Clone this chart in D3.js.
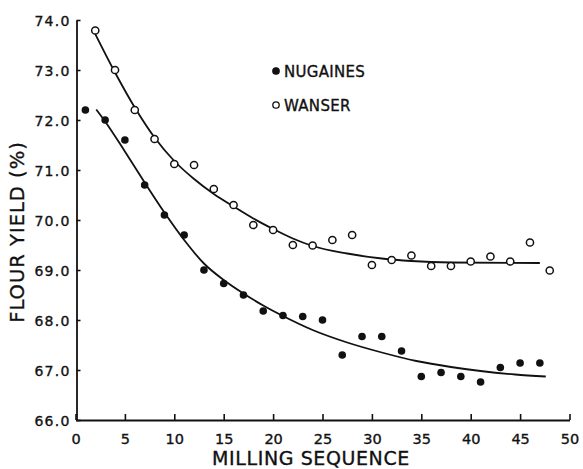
<!doctype html>
<html>
  <head>
    <script src="https://cdnjs.cloudflare.com/ajax/libs/d3/7.8.5/d3.min.js"></script>
    <style>
      body { margin: 0; background: #fff; }
      svg { display: block; }
      text { font-family: "DejaVu Sans", sans-serif; fill: #111; stroke: #111; stroke-width: 0.35px; }
    </style>
  </head>
  <body>
    <svg id="chart" width="583" height="469"></svg>
    <script>
      // milling sequence vs flour yield (%)
      var nugainesX = [1, 3, 5, 7, 9, 11, 13, 15, 17, 19, 21, 23, 25, 27, 29, 31, 33, 35, 37, 39, 41, 43, 45, 47];
      var nugainesY = [72.2, 72.0, 71.6, 70.7, 70.1, 69.7, 69.0, 68.73, 68.5, 68.18, 68.09, 68.07, 68.0, 67.3, 67.67, 67.67, 67.38, 66.87, 66.95, 66.87, 66.76, 67.05, 67.14, 67.14];

      var wanserX = [2, 4, 6, 8, 10, 12, 14, 16, 18, 20, 22, 24, 26, 28, 30, 32, 34, 36, 38, 40, 42, 44, 46, 48];
      var wanserY = [73.79, 73.0, 72.2, 71.62, 71.12, 71.1, 70.62, 70.3, 69.9, 69.8, 69.5, 69.49, 69.6, 69.7, 69.1, 69.2, 69.29, 69.08, 69.08, 69.17, 69.27, 69.17, 69.55, 68.99];

      // fitted curves as drawn in the figure
      var nugainesFitX = [2.1, 3, 5, 7, 9, 11, 13, 15, 17, 19, 21, 24, 27.5, 31, 34.5, 38, 41, 44.5, 47.6];
      var nugainesFitY = [72.21, 71.97, 71.37, 70.75, 70.15, 69.6, 69.13, 68.8, 68.53, 68.29, 68.08, 67.8, 67.55, 67.35, 67.18, 67.06, 66.98, 66.91, 66.87];
      var wanserFitX = [2, 4, 6, 8, 10, 12, 14, 16, 18, 20, 22, 24, 27.5, 31, 34, 38, 47];
      var wanserFitY = [73.72, 72.95, 72.25, 71.65, 71.18, 70.82, 70.52, 70.27, 70.03, 69.82, 69.63, 69.48, 69.33, 69.23, 69.18, 69.15, 69.14];

      var xTicks = [0, 5, 10, 15, 20, 25, 30, 35, 40, 45, 50];
      var yTicks = [66, 67, 68, 69, 70, 71, 72, 73, 74];

      var svg = d3.select("#chart");
      var x = d3.scaleLinear().domain([0, 50]).range([75.5, 569.5]);
      var y = d3.scaleLinear().domain([66, 74]).range([420, 20]);

      // axes
      var xAxis = d3.axisBottom(x).tickValues(xTicks).tickSize(-6).tickSizeOuter(0).tickPadding(14)
        .tickFormat(d3.format("d"));
      var gx = svg.append("g").attr("transform", "translate(0,420)").call(xAxis);
      gx.select(".domain").attr("stroke", "#111").attr("stroke-width", 1.8);
      gx.selectAll(".tick line").attr("stroke", "#111").attr("stroke-width", 1.6);
      gx.selectAll(".tick text").attr("font-size", 14.5).attr("fill", "#111")
        .attr("font-family", "DejaVu Sans");

      var yAxis = d3.axisLeft(y).tickValues(yTicks).tickSize(-4).tickSizeOuter(0).tickPadding(6)
        .tickFormat(d3.format(".1f"));
      var gy = svg.append("g").attr("transform", "translate(76.5,0)").call(yAxis);
      gy.select(".domain").attr("stroke", "#111").attr("stroke-width", 1.8);
      gy.selectAll(".tick line").attr("stroke", "#111").attr("stroke-width", 1.6);
      gy.selectAll(".tick text").attr("font-size", 14).attr("fill", "#111")
        .attr("font-family", "DejaVu Sans").attr("letter-spacing", "1.2px").attr("dy", "0.42em");

      // titles
      svg.append("text").attr("x", 311).attr("y", 464.5).attr("text-anchor", "middle")
        .attr("font-size", 19).attr("letter-spacing", "0.6px").text("MILLING SEQUENCE");
      svg.append("text").attr("transform", "translate(23.5,232) rotate(-90)").attr("text-anchor", "middle")
        .attr("font-size", 19.5).attr("letter-spacing", "1px").text("FLOUR YIELD (%)");

      // fitted lines
      var line = d3.line().x(d => x(d[0])).y(d => y(d[1])).curve(d3.curveMonotoneX);
      svg.append("path").datum(d3.zip(wanserFitX, wanserFitY)).attr("d", line)
        .attr("fill", "none").attr("stroke", "#111").attr("stroke-width", 1.8);
      svg.append("path").datum(d3.zip(nugainesFitX, nugainesFitY)).attr("d", line)
        .attr("fill", "none").attr("stroke", "#111").attr("stroke-width", 1.8);

      // points
      svg.append("g").selectAll("circle").data(d3.zip(nugainesX, nugainesY)).join("circle")
        .attr("cx", d => x(d[0])).attr("cy", d => y(d[1])).attr("r", 3.8).attr("fill", "#111");
      svg.append("g").selectAll("circle").data(d3.zip(wanserX, wanserY)).join("circle")
        .attr("cx", d => x(d[0])).attr("cy", d => y(d[1])).attr("r", 3.6)
        .attr("fill", "#fff").attr("stroke", "#111").attr("stroke-width", 1.5);

      // legend
      var legend = [
        {name: "NUGAINES", filled: true},
        {name: "WANSER", filled: false}
      ];
      var lg = svg.append("g").attr("transform", "translate(276,71)");
      lg.selectAll("circle").data(legend).join("circle")
        .attr("cx", 0).attr("cy", (d, i) => i * 34).attr("r", 3.2)
        .attr("fill", d => d.filled ? "#111" : "#fff").attr("stroke", "#111").attr("stroke-width", 1.3);
      lg.selectAll("text").data(legend).join("text")
        .attr("x", 8).attr("y", (d, i) => i * 34 + 5.5).attr("font-size", 15)
        .attr("letter-spacing", "0.3px").text(d => d.name);
    </script>
  </body>
</html>
